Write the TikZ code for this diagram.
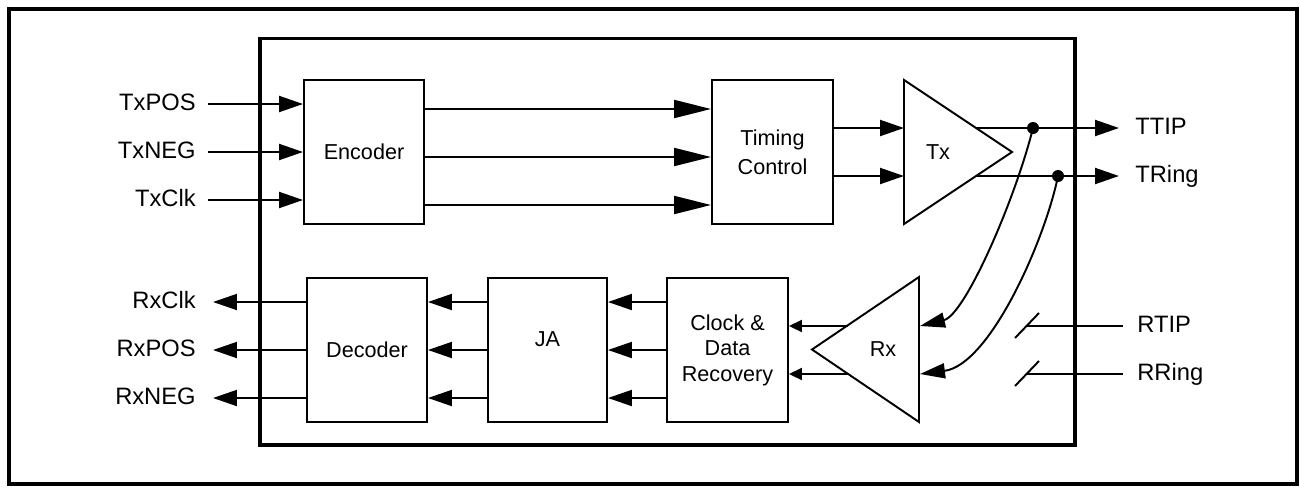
\documentclass[tikz,border=0pt]{standalone}
\usepackage{fontspec}
\setmainfont{Liberation Sans}
\usetikzlibrary{arrows.meta}

\begin{document}
\begin{tikzpicture}[x=0.02cm, y=-0.02cm,
  blk/.style={draw, line width=1.1pt, inner sep=0, minimum width=2.4cm, minimum height=2.88cm, align=center, font=\fontsize{12.3}{16.5}\selectfont},
  blktxt/.style={inner sep=0, font=\fontsize{12.3}{15}\selectfont},
  pin/.style={inner sep=0, font=\fontsize{13.5}{16}\selectfont},
  wire/.style={line width=1.1pt},
  sig/.style={wire, -{Triangle[length=0.48cm, width=0.32cm]}},
  wide/.style={wire, -{Triangle[length=0.74cm, width=0.36cm]}},
  short/.style={wire, -{Triangle[length=0.26cm, width=0.24cm]}},
  bent/.style={wire, -{Triangle[length=0.5cm, width=0.3cm]}}]

\useasboundingbox (0,0) rectangle (1300,487);
\draw[line width=2.3pt] (9,9) rectangle (1297,484);
\draw[line width=1.9pt] (260,38.5) rectangle (1075,445);

\node[blk] (enc) at (364,152) {Encoder};
\node[blk, minimum width=2.42cm] (tim) at (772.5,152) {Timing\\Control};
\node[blk] (dec) at (367,350) {Decoder};
\node[blk, minimum width=2.38cm] (ja) at (547.5,350) {};
\node[blktxt] (jatxt) at (547.5,339) {JA};
\node[blk, minimum width=2.42cm, font=\fontsize{12.3}{14.5}\selectfont] (cdr) at (727.5,350) {Clock \&\\Data\\Recovery};

\draw[wire] (904,80) coordinate (txa) -- (1012,152) -- (904,224) -- cycle;
\node[blktxt] (txt) at (938,152) {Tx};
\draw[wire] (919,277) -- (812,349.5) -- (919,422) -- cycle;
\node[blktxt] (rxt) at (883,349) {Rx};

\foreach \name/\txt/\y in {txpos/TxPOS/104, txneg/TxNEG/152, txclk/TxClk/200} {
 \node[pin, anchor=base east] (\name) at (196,\y+6) {\txt};
 \draw[sig, shorten <=0.24cm] (\name.east |- 0,\y) -- (enc.west |- 0,\y);
}
\foreach \y in {109,157,205}
 \draw[wide] (enc.east |- 0,\y) -- (tim.west |- 0,\y);
\foreach \y in {128,176}
 \draw[sig] (tim.east |- 0,\y) -- (txa |- 0,\y);

\node[pin, anchor=base west] (ttip) at (1135,134) {TTIP};
\node[pin, anchor=base west] (tring) at (1135,182) {TRing};
\coordinate (txo1) at (976,128);
\coordinate (txo2) at (976,176);
\coordinate (dtip) at (1033,128);
\coordinate (dring) at (1058,176);
\draw[sig, shorten >=0.32cm] (txo1) -- (ttip.west |- dtip);
\draw[sig, shorten >=0.32cm] (txo2) -- (tring.west |- dring);
\fill (dtip) circle[radius=0.12cm];
\fill (dring) circle[radius=0.12cm];

\coordinate (rxi1) at (920,326);
\coordinate (rxi2) at (920,374);
\draw[bent] (dtip) .. controls (1015,200) and (965,315) .. (rxi1);
\draw[bent] (dring) .. controls (1045,240) and (990,365) .. (rxi2);

\coordinate (rxo1) at (848,326);
\coordinate (rxo2) at (848,374);
\draw[short] (rxo1) -- (cdr.east |- rxo1);
\draw[short] (rxo2) -- (cdr.east |- rxo2);

\foreach \y in {302,350,398} {
 \draw[sig] (cdr.west |- 0,\y) -- (ja.east |- 0,\y);
 \draw[sig] (ja.west |- 0,\y) -- (dec.east |- 0,\y);
}
\foreach \name/\txt/\y in {rxclk/RxClk/302, rxpos/RxPOS/350, rxneg/RxNEG/398} {
 \node[pin, anchor=base east] (\name) at (196,\y+6) {\txt};
 \draw[sig, shorten >=0.34cm] (dec.west |- 0,\y) -- (\name.east |- 0,\y);
}

\node[pin, anchor=base west] (rtip) at (1137,332) {RTIP};
\node[pin, anchor=base west] (rring) at (1137,380) {RRing};
\coordinate (sw1) at (1027,326);
\coordinate (sw2) at (1027,374);
\draw[wire, shorten <=0.28cm] (rtip.west |- sw1) -- (sw1);
\draw[wire, shorten <=0.28cm] (rring.west |- sw2) -- (sw2);
\draw[wire] (sw1) ++(-12,12) -- ++(24,-25);
\draw[wire] (sw2) ++(-12,12) -- ++(24,-25);
\end{tikzpicture}
\end{document}
